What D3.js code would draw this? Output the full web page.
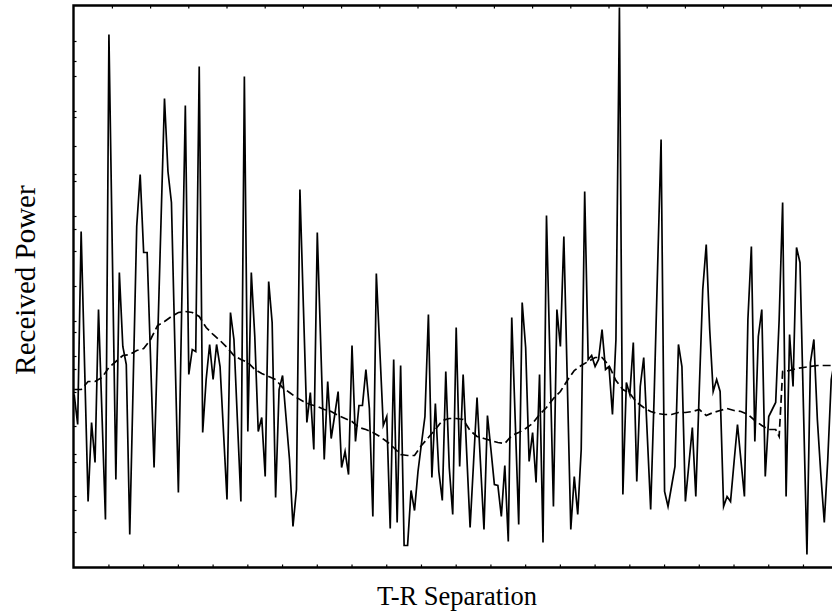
<!DOCTYPE html>
<html>
<head>
<meta charset="utf-8">
<script src="https://cdn.jsdelivr.net/npm/d3@7"></script>
<style>
  html, body { margin: 0; padding: 0; background: #fff; }
  svg { display: block; }
</style>
</head>
<body>
<svg id="chart" width="832" height="614"></svg>
<script>
// ---- Data ----
// Received power samples (arbitrary units), one per equal step of T-R separation
const power = [
  17.3,14.3,33.6,20.1,6.6,14.5,10.5,25.8,15.3,4.8,
  53.3,31.1,8.8,29.5,22.1,20.3,3.3,18.7,34.1,39.3,
  31.5,31.5,20.8,10.0,22.3,34.6,46.9,39.6,36.5,22.0,
  7.5,26.8,46.2,19.3,21.8,21.6,50.1,13.5,18.8,22.3,
  18.8,22.3,20.1,13.5,6.8,25.5,22.8,14.7,6.6,49.1,
  13.6,29.5,23.1,13.6,15.0,9.1,28.6,24.5,7.0,17.8,
  19.2,15.0,10.8,4.1,7.8,37.8,26.1,14.5,17.5,11.8,
  33.5,22.2,10.8,18.6,12.9,15.2,17.6,10.0,11.6,9.3,
  22.2,12.6,16.2,16.2,19.8,15.9,5.1,29.4,21.8,14.2,
  15.1,3.9,20.8,4.5,20.2,2.2,2.2,7.7,5.7,9.6,
  12.4,15.1,25.3,9.0,16.4,9.6,6.7,19.6,10.0,5.3,
  24.0,10.1,19.3,11.6,4.0,10.5,17.0,10.4,3.8,15.2,
  11.8,8.3,8.2,5.1,10.2,2.6,25.0,14.7,4.3,26.5,
  22.0,10.6,13.5,8.5,19.3,2.5,35.2,20.7,6.1,25.8,
  22.1,33.1,18.5,3.8,9.1,5.3,11.8,37.6,20.8,21.2,
  20.1,20.8,23.8,19.8,20.1,15.3,22.8,56.0,7.3,18.5,
  17.3,22.5,8.6,18.1,21.0,13.4,5.8,17.1,30.0,42.8,
  7.6,6.1,8.1,10.1,22.3,20.1,6.6,10.3,14.0,7.1,
  17.8,27.8,32.3,23.8,17.6,18.8,17.6,6.1,7.1,6.6,
  10.5,14.3,10.7,7.1,24.8,32.1,12.6,23.1,25.8,9.1,
  15.1,15.8,16.5,24.8,36.5,7.1,23.3,18.1,32.0,30.5,
  15.9,1.3,20.5,22.8,14.8,9.3,4.5,10.8,18.8,20.8
];

// Local mean of received power (dashed curve), at these sample positions
const meanIdx = [
  0,2,4,6,8,10,12,14,16,18,20,22,24,26,28,30,32,34,36,38,
  40,42,44,46,48,50,52,54,56,58,60,62,64,66,68,70,72,74,76,78,
  80,82,84,86,88,90,92,94,96,98,100,102,104,106,108,110,112,114,116,118,
  120,122,124,126,128,130,132,134,136,138,140,142,144,146,148,150,152,154,156,158,
  160,162,164,166,168,170,172,174,176,178,180,182,184,186,188,190,192,194,196,198,
  200,202,203,204,206,208,210,212,214,216,218,220
];
const meanPower = [
  17.8,17.8,18.6,18.6,19.0,20.0,20.6,21.2,21.3,21.7,21.9,22.8,24.2,24.6,25.1,25.5,25.6,25.5,25.1,24.0,
  23.3,22.7,22.0,21.2,20.8,20.5,19.8,19.4,19.1,18.8,18.0,17.5,17.0,16.6,16.3,16.1,15.8,15.6,15.2,14.9,
  14.6,14.0,13.8,13.5,13.1,12.6,12.0,11.3,11.2,11.2,12.2,13.0,13.8,14.7,14.9,14.9,14.8,13.7,13.1,12.9,
  12.7,12.5,12.4,13.2,13.5,13.9,14.4,15.3,16.0,16.9,17.6,18.7,19.7,20.2,20.6,21.0,21.0,20.2,18.7,17.8,
  17.4,16.5,16.0,15.6,15.4,15.3,15.3,15.5,15.5,15.6,15.8,15.2,15.5,15.7,15.9,15.7,15.6,15.3,14.7,14.2,
  13.8,13.8,13.1,19.6,19.7,19.9,20.0,20.1,20.2,20.2,20.2,20.2
];

// Axis tick positions (no labels in the reference)
const bottomTicks = d3.range(10, 221, 10);   // sample index
const topTicks = d3.range(11, 221, 11);      // sample index
const leftTicks = [52.6,50.6,49.1,45.6,45.0,42.1,39.3,38.6,35.1,33.8,31.6,28.1,
                   24.6,23.5,21.1,19.8,17.5,14.1,11.3,10.5,7.1,5.7,3.5];

const xLabel = "T-R Separation";
const yLabel = "Received Power";

// ---- Layout ----
const svg = d3.select("#chart");
const pLeft = 73.5, pTop = 5.5, pBottom = 567.5, pRight = 846;

const x = d3.scaleLinear().domain([0, 220]).range([74.2, 74.2 + 220 * 3.4727]);
const y = d3.scaleLinear().domain([0, 56.2]).range([pBottom, pTop]);

svg.append("defs").append("clipPath").attr("id", "plotclip")
  .append("rect").attr("x", pLeft).attr("y", pTop)
  .attr("width", pRight - pLeft).attr("height", pBottom - pTop);

const g = svg.append("g").attr("clip-path", "url(#plotclip)");

// dashed local mean
const meanLine = d3.line().x((d, i) => x(meanIdx[i])).y(d => y(d));
g.append("path")
  .attr("d", meanLine(meanPower))
  .attr("fill", "none").attr("stroke", "#000")
  .attr("stroke-width", 1.7).attr("stroke-dasharray", "8,4");

// solid received power
const powerLine = d3.line().x((d, i) => x(i)).y(d => y(d));
g.append("path")
  .attr("d", powerLine(power))
  .attr("fill", "none").attr("stroke", "#000")
  .attr("stroke-width", 1.7).attr("stroke-linejoin", "miter").attr("stroke-miterlimit", 6);

// ticks (inward)
const tk = svg.append("g").attr("stroke", "#000").attr("stroke-width", 1.2);
tk.selectAll(".bt").data(bottomTicks).enter().append("line")
  .attr("x1", d => x(d)).attr("x2", d => x(d))
  .attr("y1", pBottom).attr("y2", pBottom - 3);
tk.selectAll(".tt").data(topTicks).enter().append("line")
  .attr("x1", d => x(d)).attr("x2", d => x(d))
  .attr("y1", pTop).attr("y2", pTop + 3);
tk.selectAll(".lt").data(leftTicks).enter().append("line")
  .attr("x1", pLeft).attr("x2", pLeft + 3)
  .attr("y1", d => y(d)).attr("y2", d => y(d));

// frame
svg.append("path")
  .attr("d", `M${pRight},${pTop} H${pLeft} V${pBottom} H${pRight}`)
  .attr("fill", "none").attr("stroke", "#000").attr("stroke-width", 2.4);

// labels
const font = "'Liberation Serif', 'Times New Roman', serif";
svg.append("text")
  .attr("x", 457).attr("y", 605)
  .attr("text-anchor", "middle")
  .attr("font-family", font).attr("font-size", 26.5)
  .attr("fill", "#000")
  .text(xLabel);
svg.append("text")
  .attr("transform", "translate(35,280) rotate(-90)")
  .attr("text-anchor", "middle")
  .attr("font-family", font).attr("font-size", 29)
  .attr("fill", "#000")
  .text(yLabel);
</script>
</body>
</html>
